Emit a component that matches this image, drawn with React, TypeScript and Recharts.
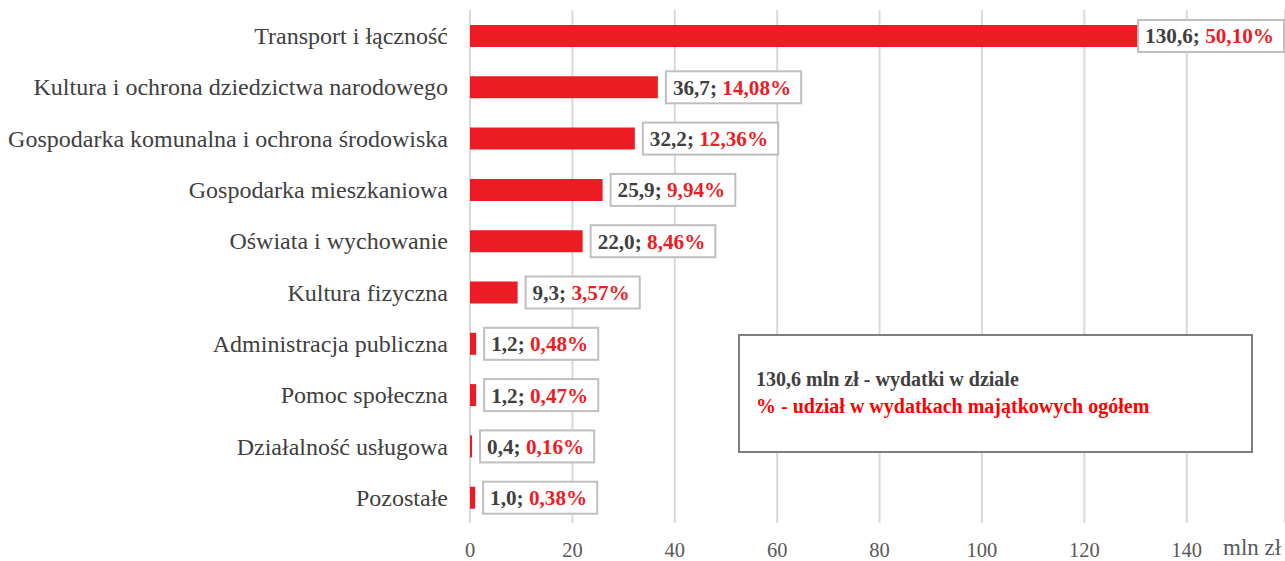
import { BarChart, Bar, XAxis, YAxis, CartesianGrid, LabelList } from "recharts";

const categories = [
  "Transport i łączność",
  "Kultura i ochrona dziedzictwa narodowego",
  "Gospodarka komunalna i ochrona środowiska",
  "Gospodarka mieszkaniowa",
  "Oświata i wychowanie",
  "Kultura fizyczna",
  "Administracja publiczna",
  "Pomoc społeczna",
  "Działalność usługowa",
  "Pozostałe",
];
const values = [130.6, 36.7, 32.2, 25.9, 22.0, 9.3, 1.2, 1.2, 0.4, 1.0];
const shares = [50.1, 14.08, 12.36, 9.94, 8.46, 3.57, 0.48, 0.47, 0.16, 0.38];
const xTicks = [0, 20, 40, 60, 80, 100, 120, 140];

const data = categories.map((name, i) => ({ name, value: values[i], share: shares[i] }));

const FONT = "'Liberation Serif', 'Times New Roman', serif";
const RED = "#ee1c25";
const DARK = "#404040";
const LABEL_SIZE = 21.2;

const fmt = (n: number, d: number) => n.toFixed(d).replace(".", ",");

let ctx: CanvasRenderingContext2D | null = null;
function measure(text: string) {
  if (!ctx) ctx = document.createElement("canvas").getContext("2d");
  if (!ctx) return text.length * 10.5;
  ctx.font = `bold ${LABEL_SIZE}px ${FONT}`;
  return ctx.measureText(text).width;
}

function BoxLabel(props: any) {
  const { x, y, width, height, index } = props;
  const v = fmt(values[index], 1) + "; ";
  const p = fmt(shares[index], 2) + "%";
  const w = measure(v + p) + 17;
  let left = Number(x) + Number(width) + 8;
  if (left + w > 1284) left = 1284 - w;
  const cy = Number(y) + Number(height) / 2;
  return (
    <g>
      <rect x={left} y={cy - 16} width={w} height={32} fill="#fff" stroke="#bfbfbf" strokeWidth={2} />
      <text x={left + 7} y={cy} dy="0.35em" fontFamily={FONT} fontSize={LABEL_SIZE} fontWeight="bold">
        <tspan fill={DARK}>{v}</tspan>
        <tspan fill={RED}>{p}</tspan>
      </text>
    </g>
  );
}

export default function App() {
  return (
    <div style={{ position: "absolute", left: 0, top: 0, width: 1285, height: 561, background: "#fff", overflow: "hidden" }}>
      <BarChart
        width={1285}
        height={561}
        data={data}
        layout="vertical"
        margin={{ top: 10, right: 0, bottom: 0, left: 0 }}
        barCategoryGap={0}
      >
        <CartesianGrid horizontal={false} stroke="#d9d9d9" strokeWidth={2} />
        <XAxis
          type="number"
          domain={[0, 159.2]}
          ticks={xTicks}
          allowDataOverflow
          axisLine={false}
          tickLine={false}
          tickSize={0}
          tickMargin={19}
          height={38}
          tick={{ fill: "#595959", fontSize: 20.5, fontFamily: FONT }}
        />
        <YAxis
          type="category"
          dataKey="name"
          width={470}
          axisLine={false}
          tickLine={false}
          tickSize={0}
          tickMargin={22}
          interval={0}
          tick={{ fill: DARK, fontSize: 24, fontFamily: FONT }}
        />
        <Bar dataKey="value" fill="#ed1c24" barSize={22} isAnimationActive={false}>
          <LabelList dataKey="value" content={(p: any) => <BoxLabel {...p} />} />
        </Bar>
      </BarChart>
      <div
        style={{
          position: "absolute",
          left: 1223,
          top: 535,
          fontFamily: FONT,
          fontSize: 23,
          color: "#595959",
          whiteSpace: "nowrap",
        }}
      >
        mln zł
      </div>
      <div
        style={{
          position: "absolute",
          left: 738,
          top: 334,
          width: 515,
          height: 119,
          boxSizing: "border-box",
          border: "2.5px solid #7f7f7f",
          background: "#fff",
          display: "flex",
          flexDirection: "column",
          justifyContent: "center",
          paddingLeft: 16,
          paddingBottom: 2,
          fontFamily: FONT,
          fontSize: 20,
          fontWeight: "bold",
          lineHeight: "27px",
        }}
      >
        <div style={{ color: DARK }}>130,6 mln zł - wydatki w dziale</div>
        <div style={{ color: "#ff0000" }}>% - udział w wydatkach majątkowych ogółem</div>
      </div>
    </div>
  );
}
